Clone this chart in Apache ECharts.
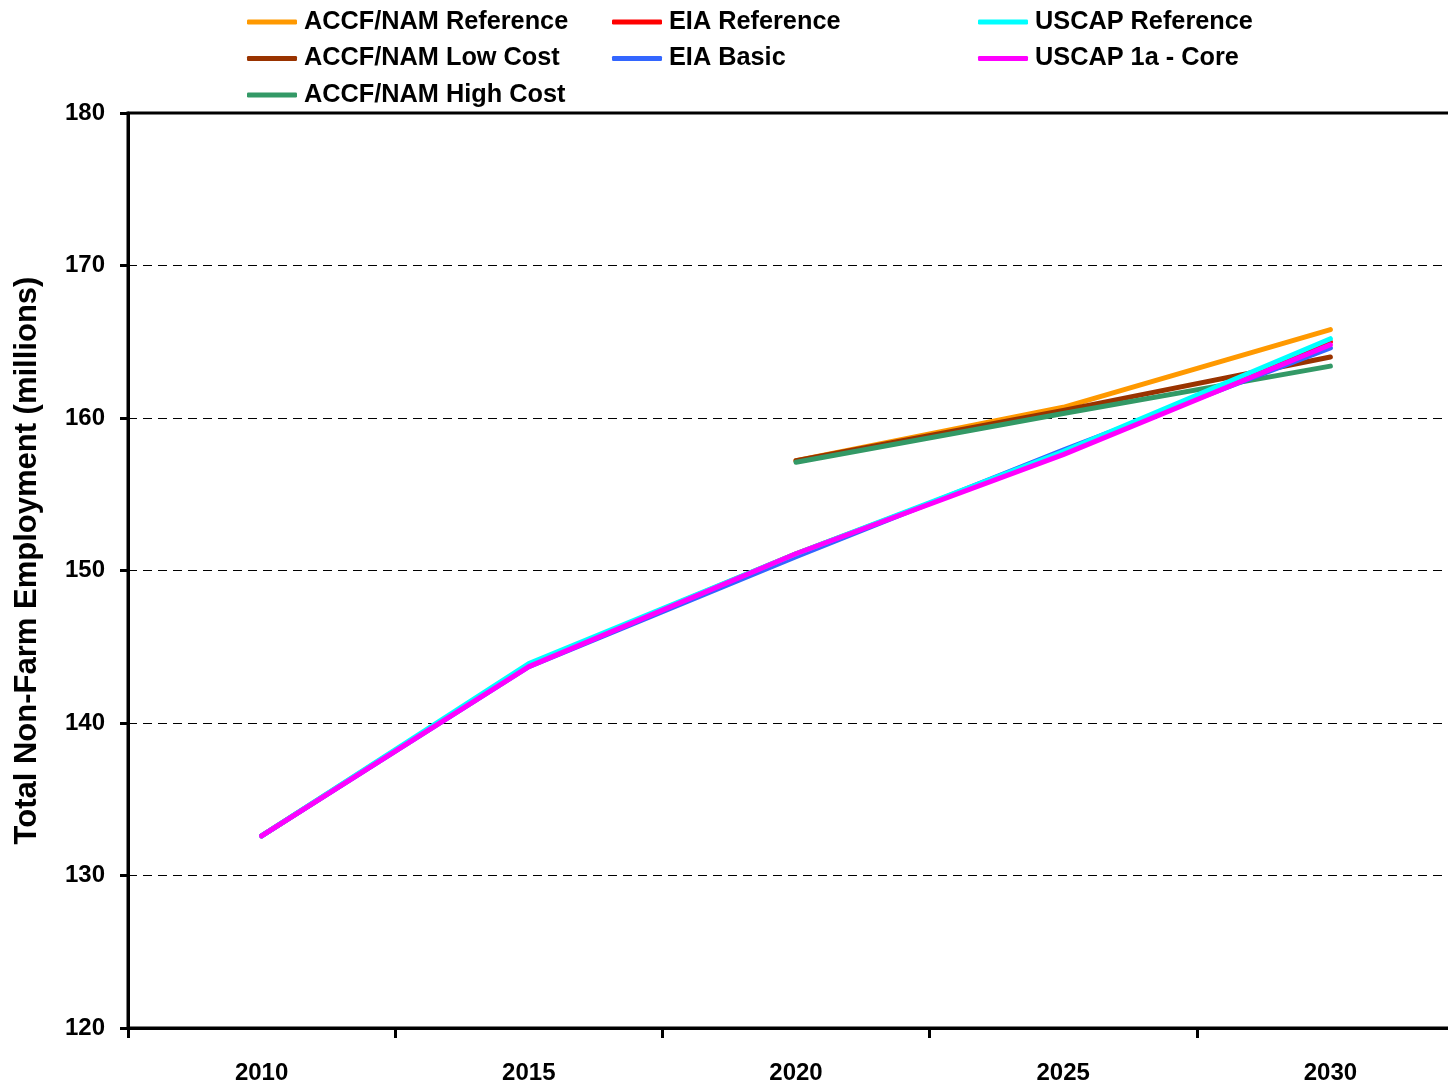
<!DOCTYPE html>
<html>
<head>
<meta charset="utf-8">
<script src="https://cdn.jsdelivr.net/npm/echarts@6/dist/echarts.min.js"></script>
<style>html,body{margin:0;padding:0;background:#fff}#chart{width:1448px;height:1089px}</style>
</head>
<body>
<div id="chart"></div>
<script>
var years = ['2010', '2015', '2020', '2025', '2030'];
var yTicks = [120, 130, 140, 150, 160, 170, 180];

var accfRef  = [null, null, 157.2, 160.7, 165.8];
var accfLow  = [null, null, 157.2, 160.5, 164.0];
var accfHigh = [null, null, 157.1, 160.3, 163.4];
var eiaRef   = [132.6, 143.8, 151.1, 157.7, 165.0];
var eiaBasic = [132.6, 143.7, 150.9, 157.9, 164.6];
var uscapRef = [132.6, 143.9, 151.1, 157.8, 165.2];
var uscap1a  = [132.6, 143.7, 151.1, 157.6, 164.8];

var names = ['ACCF/NAM Reference', 'ACCF/NAM Low Cost', 'ACCF/NAM High Cost',
             'EIA Reference', 'EIA Basic', 'USCAP Reference', 'USCAP 1a - Core'];
var colors = ['#FF9900', '#993300', '#339966', '#FF0000', '#3366FF', '#00FFFF', '#FF00FF'];
var datas = [accfRef, accfLow, accfHigh, eiaRef, eiaBasic, uscapRef, uscap1a];

var font = '"Liberation Sans", Arial, sans-serif';
var series = names.map(function (n, i) {
  return {
    name: n, type: 'line', data: datas[i], symbol: 'none', connectNulls: false,
    lineStyle: { color: colors[i], width: 5, cap: 'round', join: 'round' },
    itemStyle: { color: colors[i] }, z: 2 + i
  };
});

function legend(left, data) {
  return {
    left: left, top: 9, padding: 0, orient: 'vertical', data: data,
    icon: 'roundRect', itemWidth: 50, itemHeight: 5, itemGap: 10.5,
    textStyle: { fontFamily: font, fontWeight: 'bold', fontSize: 25.3, color: '#000', lineHeight: 26, padding: [0, 0, 0, 2] }
  };
}

var chart = echarts.init(document.getElementById('chart'), null, { renderer: 'canvas' });
chart.setOption({
  animation: false,
  backgroundColor: '#fff',
  legend: [
    legend(247, names.slice(0, 3)),
    legend(612, names.slice(3, 5)),
    legend(978, names.slice(5, 7))
  ],
  grid: { left: 128, top: 113, bottom: 61, right: -16, outerBoundsMode: 'none', containLabel: false,
          show: true, borderColor: '#000', borderWidth: 3, backgroundColor: 'transparent' },
  xAxis: {
    type: 'category', data: years, boundaryGap: true,
    axisLine: { lineStyle: { color: '#000', width: 3 } },
    axisTick: { show: true, length: 10, lineStyle: { color: '#000', width: 3 } },
    axisLabel: { margin: 33, fontFamily: font, fontWeight: 'bold', fontSize: 24, color: '#000' },
    splitLine: { show: false }
  },
  yAxis: {
    type: 'value', min: yTicks[0], max: yTicks[yTicks.length - 1], interval: 10,
    name: 'Total Non-Farm Employment (millions)', nameLocation: 'middle', nameGap: 85, nameRotate: 90,
    nameTextStyle: { fontFamily: font, fontWeight: 'bold', fontSize: 31, color: '#000', padding: [0, 0, 0, 20] },
    axisLine: { show: true, lineStyle: { color: '#000', width: 3 } },
    axisTick: { show: true, length: 8, lineStyle: { color: '#000', width: 3 } },
    axisLabel: { margin: 23, fontFamily: font, fontWeight: 'bold', fontSize: 24, color: '#000' },
    splitLine: { show: true, lineStyle: { color: '#000', width: 1.2, type: [9, 6] } }
  },
  series: series
});
</script>
</body>
</html>
